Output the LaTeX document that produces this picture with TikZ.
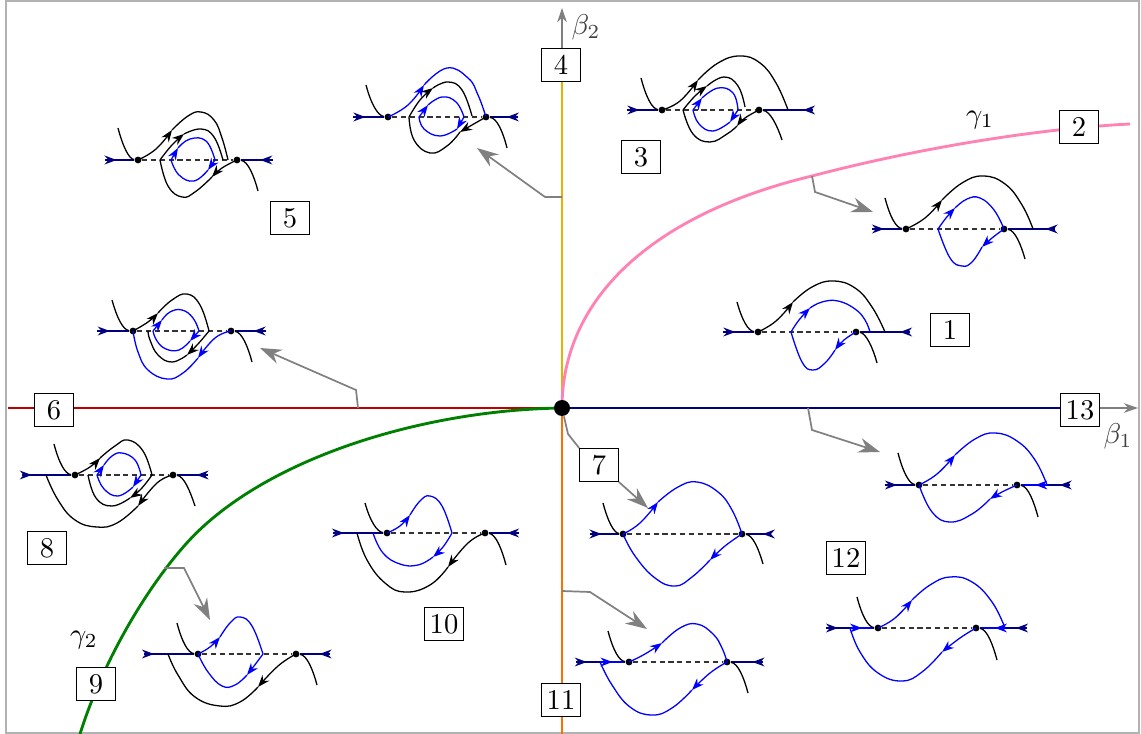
\documentclass[tikz,border=0pt]{standalone}
\usepackage{tikz}
\usetikzlibrary{arrows.meta, decorations.markings}

\definecolor{navyline}{RGB}{0,0,128}
\definecolor{redaxis}{RGB}{190,0,0}
\definecolor{goldaxis}{RGB}{228,178,0}
\definecolor{orangeaxis}{RGB}{255,110,0}
\definecolor{pinkcurve}{RGB}{255,130,180}
\definecolor{greencurve}{RGB}{0,128,0}

\begin{document}
\begin{tikzpicture}[x=0.35pt, y=-0.35pt,
    orb/.style={line width=0.45pt},
    bl/.style={blue, line width=0.45pt},
    stab/.style={navyline, line width=0.55pt},
    sect/.style={black!80, line width=0.4pt, dash pattern=on 1.8pt off 1.3pt},
    tip/.style={-{Stealth[length=4.2pt, width=3.1pt]}},
    arr/.style={postaction={decorate, decoration={markings, mark=at position #1 with {\arrow{Stealth[length=4.2pt, width=3.1pt]}}}}},
    eq/.style={circle, fill=black, inner sep=0pt, minimum size=2.4pt},
    lbl/.style={draw, fill=white, line width=0.4pt, minimum width=13.5pt, minimum height=11.5pt, inner sep=1pt},
    axisline/.style={gray, line width=0.5pt, -{Stealth[length=5pt, width=3.4pt]}},
    guide/.style={gray, line width=0.6pt, -{Stealth[length=7.5pt, width=5.2pt]}},
    sm/.style={smooth, tension=0.75}]

\useasboundingbox (0,0) rectangle (1141,734);
\draw[gray!60, line width=0.4pt] (6,1) rectangle (1139,733);

\draw[axisline] (562,734) -- (562,8);
\draw[axisline] (8,408) -- (1138,408);
\draw[goldaxis, line width=1pt] (562,408) -- (562,50);
\draw[orangeaxis, line width=1pt] (562,408) -- (562,734);
\draw[redaxis, line width=1pt] (8,408) -- (562,408);
\draw[navyline, line width=1pt] (562,408) -- (1098,408);
\draw[pinkcurve, line width=1pt] (562,408) .. controls (562,300) and (650,215) .. (812,176) .. controls (930,145) and (1050,128) .. (1130,124);
\draw[greencurve, line width=1pt] (562,408) .. controls (420,410) and (260,460) .. (185,545) .. controls (140,596) and (100,670) .. (80,734);

% region 4
\node[eq] (aL) at (388,117) {};
\node[eq] (aR) at (486,117) {};
\draw[sect] (aL) -- (aR);
\draw[stab, arr=0.4] (353,117) -- (aL);
\draw[stab, arr=0.4] (518,117) -- (aR);
\draw[orb] (366,85) .. controls (371,104) and (378,116) .. (aL);
\draw[orb] (aR) .. controls (497,118) and (503,132) .. (507,148);
\draw[bl, tip] plot[sm] coordinates {(388,117) (408,105) (424,85)};
\draw[bl] plot[sm] coordinates {(424,85) (447,68) (468,78) (478,95) (486,117)};
\draw[orb, tip] plot[sm] coordinates {(486,117) (472,125) (460,132)};
\draw[orb] plot[sm] coordinates {(460,132) (447,146) (430,153) (414,140) (409,117)};
\draw[orb, tip] plot[sm] coordinates {(409,117) (420,100) (433,88)};
\draw[orb] plot[sm] coordinates {(433,88) (448,82) (462,90) (472,116)};
\draw[bl, tip] plot[sm] coordinates {(419,117) (428,105)};
\draw[bl] plot[sm] coordinates {(428,105) (442,97) (456,102) (464,117)};
\draw[bl, tip] plot[sm] coordinates {(464,117) (457,129)};
\draw[bl] plot[sm] coordinates {(457,129) (440,136) (424,129) (419,117)};

% region 3
\node[eq] (bL) at (662,110) {};
\node[eq] (bR) at (759,110) {};
\draw[sect] (bL) -- (bR);
\draw[stab, arr=0.4] (627,110) -- (bL);
\draw[stab, arr=0.2] (813,110) -- (bR);
\draw[orb] (641,78) .. controls (646,97) and (652,109) .. (bL);
\draw[orb] (bR) .. controls (770,111) and (777,125) .. (782,140);
\draw[orb, tip] plot[sm] coordinates {(662,110) (680,101) (698,80)};
\draw[orb] plot[sm] coordinates {(698,80) (718,63) (740,56) (760,63) (776,83) (788,110)};
\draw[orb, tip] plot[sm] coordinates {(759,110) (745,118) (737,126)};
\draw[orb] plot[sm] coordinates {(737,126) (727,134) (710,142) (693,134) (683,110)};
\draw[orb, tip] plot[sm] coordinates {(683,110) (695,96) (707,86)};
\draw[orb] plot[sm] coordinates {(707,86) (724,77) (738,86) (745,107)};
\draw[bl, tip] plot[sm] coordinates {(693,110) (702,98)};
\draw[bl] plot[sm] coordinates {(702,98) (718,88) (733,93) (738,110)};
\draw[bl, tip] plot[sm] coordinates {(738,110) (730,122)};
\draw[bl] plot[sm] coordinates {(730,122) (713,131) (699,124) (693,110)};

% region 5
\node[eq] (cL) at (138,160) {};
\node[eq] (cR) at (237,160) {};
\draw[sect] (cL) -- (cR);
\draw[stab, arr=0.4] (105,160) -- (cL);
\draw[stab, arr=0.4] (273,160) -- (cR);
\draw[orb] (118,128) .. controls (123,147) and (129,159) .. (cL);
\draw[orb] (cR) .. controls (248,161) and (254,176) .. (258,191);
\draw[orb, tip] plot[sm] coordinates {(138,160) (156,149) (172,130)};
\draw[orb] plot[sm] coordinates {(172,130) (188,116) (201,112) (214,120) (222,138) (228,160)};
\draw[orb, tip] plot[sm] coordinates {(237,160) (222,168) (212,177)};
\draw[orb] plot[sm] coordinates {(212,177) (195,192) (182,197) (168,186) (160,160)};
\draw[orb, tip] plot[sm] coordinates {(160,160) (172,145) (184,134)};
\draw[orb] plot[sm] coordinates {(184,134) (201,129) (214,137) (223,160)};
\draw[bl, tip] plot[sm] coordinates {(171,160) (178,148)};
\draw[bl] plot[sm] coordinates {(178,148) (190,139) (206,141) (215,160)};
\draw[bl, tip] plot[sm] coordinates {(215,160) (208,170)};
\draw[bl] plot[sm] coordinates {(208,170) (194,181) (179,175) (171,160)};

% curve gamma_1
\node[eq] (dL) at (906,229) {};
\node[eq] (dR) at (1004,229) {};
\draw[sect] (dL) -- (dR);
\draw[stab, arr=0.4] (872,229) -- (dL);
\draw[stab, arr=0.2] (1055,229) -- (dR);
\draw[orb] (885,198) .. controls (890,217) and (896,228) .. (dL);
\draw[orb] (dR) .. controls (1015,230) and (1021,245) .. (1025,259);
\draw[orb, tip] plot[sm] coordinates {(906,229) (925,218) (942,200)};
\draw[orb] plot[sm] coordinates {(942,200) (962,183) (983,176) (1005,184) (1022,205) (1033,229)};
\draw[bl, tip] plot[sm] coordinates {(938,229) (946,218) (955,208)};
\draw[bl] plot[sm] coordinates {(955,208) (967,199) (980,198) (994,210) (1004,229)};
\draw[bl, tip] plot[sm] coordinates {(1004,229) (992,238) (982,247)};
\draw[bl] plot[sm] coordinates {(982,247) (972,262) (962,266) (950,258) (938,229)};

% region 1
\node[eq] (eL) at (758,332) {};
\node[eq] (eR) at (856,332) {};
\draw[sect] (eL) -- (eR);
\draw[stab, arr=0.4] (723,332) -- (eL);
\draw[stab, arr=0.2] (910,332) -- (eR);
\draw[orb] (737,302) .. controls (742,320) and (748,331) .. (eL);
\draw[orb] (eR) .. controls (866,333) and (873,348) .. (877,363);
\draw[orb, tip] plot[sm] coordinates {(758,332) (776,321) (793,302)};
\draw[orb] plot[sm] coordinates {(793,302) (812,287) (833,281) (855,288) (872,307) (885,332)};
\draw[bl, tip] plot[sm] coordinates {(791,332) (799,320) (810,308)};
\draw[bl] plot[sm] coordinates {(810,308) (822,302) (838,301) (855,309) (865,320) (870,332)};
\draw[bl, tip] plot[sm] coordinates {(856,332) (844,340) (835,350)};
\draw[bl] plot[sm] coordinates {(835,350) (825,363) (813,370) (802,362) (791,332)};

% axis 6
\node[eq] (fL) at (133,331) {};
\node[eq] (fR) at (231,331) {};
\draw[sect] (fL) -- (fR);
\draw[stab, arr=0.4] (97,331) -- (fL);
\draw[stab, arr=0.4] (266,331) -- (fR);
\draw[orb] (112,300) .. controls (117,318) and (123,330) .. (fL);
\draw[orb] (fR) .. controls (242,332) and (248,347) .. (252,362);
\draw[orb, tip] plot[sm] coordinates {(133,331) (148,322) (158,313)};
\draw[orb] plot[sm] coordinates {(158,313) (172,300) (187,294) (200,305) (209,331)};
\draw[orb, tip] plot[sm] coordinates {(209,331) (198,344) (187,355)};
\draw[orb] plot[sm] coordinates {(187,355) (172,362) (158,355) (150,340) (148,331)};
\draw[bl, tip] plot[sm] coordinates {(153,331) (162,320)};
\draw[bl] plot[sm] coordinates {(162,320) (170,312) (182,310) (193,318) (199,331)};
\draw[bl, tip] plot[sm] coordinates {(199,331) (190,341)};
\draw[bl] plot[sm] coordinates {(190,341) (179,350) (166,349) (157,341) (153,331)};
\draw[bl, tip] plot[sm] coordinates {(231,331) (215,338) (198,358)};
\draw[bl] plot[sm] coordinates {(198,358) (183,373) (167,379) (148,370) (138,352) (133,331)};

% region 8
\node[eq] (gL) at (75,475) {};
\node[eq] (gR) at (173,475) {};
\draw[sect] (gL) -- (gR);
\draw[stab, arr=0.2] (22,475) -- (gL);
\draw[stab, arr=0.37] (208,475) -- (gR);
\draw[orb] (54,444) .. controls (59,463) and (65,474) .. (gL);
\draw[orb] (gR) .. controls (184,476) and (190,491) .. (195,506);
\draw[orb, tip] plot[sm] coordinates {(75,475) (90,467) (100,458)};
\draw[orb] plot[sm] coordinates {(100,458) (115,446) (128,440) (143,451) (152,475)};
\draw[orb, tip] plot[sm] coordinates {(152,475) (141,489) (130,498)};
\draw[orb] plot[sm] coordinates {(130,498) (112,506) (96,498) (88,475)};
\draw[orb, tip] plot[sm] coordinates {(173,475) (157,483) (138,506)};
\draw[orb] plot[sm] coordinates {(138,506) (117,523) (97,527) (75,520) (58,500) (46,475)};
\draw[bl, tip] plot[sm] coordinates {(97,475) (104,465)};
\draw[bl] plot[sm] coordinates {(104,465) (112,456) (122,453) (135,460) (141,475)};
\draw[bl, tip] plot[sm] coordinates {(141,475) (133,487)};
\draw[bl] plot[sm] coordinates {(133,487) (118,496) (104,489) (97,475)};

% region 10
\node[eq] (hL) at (387,533) {};
\node[eq] (hR) at (485,533) {};
\draw[sect] (hL) -- (hR);
\draw[stab, arr=0.22] (333,533) -- (hL);
\draw[stab, arr=0.4] (519,533) -- (hR);
\draw[orb] (365,503) .. controls (370,521) and (377,532) .. (hL);
\draw[orb] (hR) .. controls (496,534) and (502,550) .. (506,565);
\draw[bl, tip] plot[sm] coordinates {(387,533) (400,526) (410,515)};
\draw[bl] plot[sm] coordinates {(410,515) (420,501) (430,496) (442,506) (452,533)};
\draw[bl, tip] plot[sm] coordinates {(452,533) (443,547) (433,557)};
\draw[bl] plot[sm] coordinates {(433,557) (418,565) (400,564) (383,553) (373,533)};
\draw[orb, tip] plot[sm] coordinates {(485,533) (468,543) (448,567)};
\draw[orb] plot[sm] coordinates {(448,567) (430,585) (405,592) (385,583) (367,560) (357,533)};

% point 7
\node[eq] (iL) at (623,534) {};
\node[eq] (iR) at (742,534) {};
\draw[sect] (iL) -- (iR);
\draw[stab, arr=0.4] (590,534) -- (iL);
\draw[stab, arr=0.3] (770,534) -- (iR);
\draw[orb] (603,503) .. controls (608,522) and (614,533) .. (iL);
\draw[orb] (iR) .. controls (753,535) and (759,550) .. (763,564);
\draw[bl, tip] plot[sm] coordinates {(623,534) (640,523) (658,502)};
\draw[bl] plot[sm] coordinates {(658,502) (678,487) (697,482) (718,492) (732,510) (742,534)};
\draw[bl, tip] plot[sm] coordinates {(742,534) (725,546) (710,560)};
\draw[bl] plot[sm] coordinates {(710,560) (692,577) (675,586) (655,578) (635,556) (623,534)};

% axis 13
\node[eq] (jL) at (919,485) {};
\node[eq] (jR) at (1017,485) {};
\draw[sect] (jL) -- (jR);
\draw[stab, arr=0.4] (885,485) -- (jL);
\draw[stab, arr=0.45] (1070,485) -- (1047,485);
\draw[bl, arr=0.45] (1047,485) -- (jR);
\draw[orb] (898,453) .. controls (903,472) and (909,484) .. (jL);
\draw[orb] (jR) .. controls (1028,486) and (1034,502) .. (1038,517);
\draw[bl, tip] plot[sm] coordinates {(919,485) (937,474) (955,455)};
\draw[bl] plot[sm] coordinates {(955,455) (975,439) (995,433) (1017,441) (1035,460) (1047,485)};
\draw[bl, tip] plot[sm] coordinates {(1017,485) (1002,492) (990,499)};
\draw[bl] plot[sm] coordinates {(990,499) (972,514) (950,522) (932,512) (919,485)};

% curve gamma_2
\node[eq] (kL) at (198,654) {};
\node[eq] (kR) at (296,654) {};
\draw[sect] (kL) -- (kR);
\draw[stab, arr=0.2] (144,654) -- (kL);
\draw[stab, arr=0.35] (330,654) -- (kR);
\draw[orb] (177,623) .. controls (182,642) and (188,653) .. (kL);
\draw[orb] (kR) .. controls (307,655) and (313,670) .. (317,685);
\draw[bl, tip] plot[sm] coordinates {(198,654) (210,647) (220,637)};
\draw[bl] plot[sm] coordinates {(220,637) (230,623) (240,617) (252,626) (263,654)};
\draw[bl, tip] plot[sm] coordinates {(263,654) (254,666) (247,675)};
\draw[bl] plot[sm] coordinates {(247,675) (235,685) (222,686) (208,672) (198,654)};
\draw[orb, tip] plot[sm] coordinates {(296,654) (278,666) (258,687)};
\draw[orb] plot[sm] coordinates {(258,687) (240,702) (220,706) (195,697) (178,675) (168,654)};

% axis 11
\node[eq] (lL) at (629,662) {};
\node[eq] (lR) at (727,662) {};
\draw[sect] (lL) -- (lR);
\draw[stab, arr=0.45] (576,662) -- (600,662);
\draw[bl, arr=0.5] (600,662) -- (lL);
\draw[stab, arr=0.33] (763,662) -- (lR);
\draw[orb] (608,631) .. controls (613,650) and (619,661) .. (lL);
\draw[orb] (lR) .. controls (738,663) and (744,678) .. (748,693);
\draw[bl, tip] plot[sm] coordinates {(629,662) (645,654) (662,643)};
\draw[bl] plot[sm] coordinates {(662,643) (680,628) (697,624) (713,634) (722,648) (727,662)};
\draw[bl, tip] plot[sm] coordinates {(727,662) (710,673) (692,690)};
\draw[bl] plot[sm] coordinates {(692,690) (672,708) (652,715) (630,707) (612,685) (600,662)};

% region 12
\node[eq] (mL) at (878,628) {};
\node[eq] (mR) at (976,628) {};
\draw[sect] (mL) -- (mR);
\draw[stab, arr=0.5] (826,628) -- (850,628);
\draw[bl, arr=0.5] (850,628) -- (mL);
\draw[stab, arr=0.5] (1027,628) -- (1005,628);
\draw[bl, arr=0.4] (1005,628) -- (mR);
\draw[orb] (857,597) .. controls (862,616) and (868,627) .. (mL);
\draw[orb] (mR) .. controls (987,629) and (993,645) .. (997,660);
\draw[bl, tip] plot[sm] coordinates {(878,628) (895,618) (912,600)};
\draw[bl] plot[sm] coordinates {(912,600) (930,585) (950,577) (972,582) (992,602) (1005,628)};
\draw[bl, tip] plot[sm] coordinates {(976,628) (960,638) (942,652)};
\draw[bl] plot[sm] coordinates {(942,652) (922,672) (902,681) (878,673) (860,652) (850,628)};

\node[lbl] (r1) at (950,330) {1};
\node[lbl] (r2) at (1079,127) {2};
\node[lbl] (r3) at (641,157) {3};
\node[lbl] (r4) at (561,65) {4};
\node[lbl] (r5) at (290,218) {5};
\node[lbl] (r6) at (54,410) {6};
\node[lbl] (r7) at (599,465) {7};
\node[lbl] (r8) at (47,548) {8};
\node[lbl] (r9) at (96,684) {9};
\node[lbl] (r10) at (444,624) {10};
\node[lbl] (r11) at (561,700) {11};
\node[lbl] (r12) at (846,558) {12};
\node[lbl] (r13) at (1080,410) {13};

\node[text=black!75] (lb2) at (586,27) {$\beta_2$};
\node[text=black!75] (lb1) at (1118,436) {$\beta_1$};
\node (lg1) at (980,120) {$\gamma_1$};
\node (lg2) at (84,640) {$\gamma_2$};

\node[circle, fill=black, inner sep=0pt, minimum size=5.6pt] (O) at (562,408) {};

\coordinate (s4) at (562,197);
\coordinate (s2) at (812,176);
\coordinate (s6) at (358,408);
\coordinate (s13) at (808,408);
\coordinate (s9) at (164,568);
\coordinate (s11) at (562,591);
\coordinate (t4) at (477,148);
\coordinate (t2) at (873,212);
\coordinate (t6) at (260,348);
\coordinate (t7) at (648,508);
\coordinate (t13) at (880,452);
\coordinate (t9) at (210,620);
\coordinate (t11) at (647,629);

\draw[guide] (s4) -- ++(-17,0) -- (t4);
\draw[guide] (s2) -- ++(3,16) -- (t2);
\draw[guide] (s6) -- ++(-2,-18) -- (t6);
\draw[gray, line width=0.6pt] (O) -- ++(6,26) -- (r7.north west);
\draw[guide] (r7.south east) -- (t7);
\draw[guide] (s13) -- ++(4,22) -- (t13);
\draw[guide] (s9) -- ++(20,0) -- (t9);
\draw[guide] (s11) -- ++(28,1) -- (t11);
\end{tikzpicture}
\end{document}
